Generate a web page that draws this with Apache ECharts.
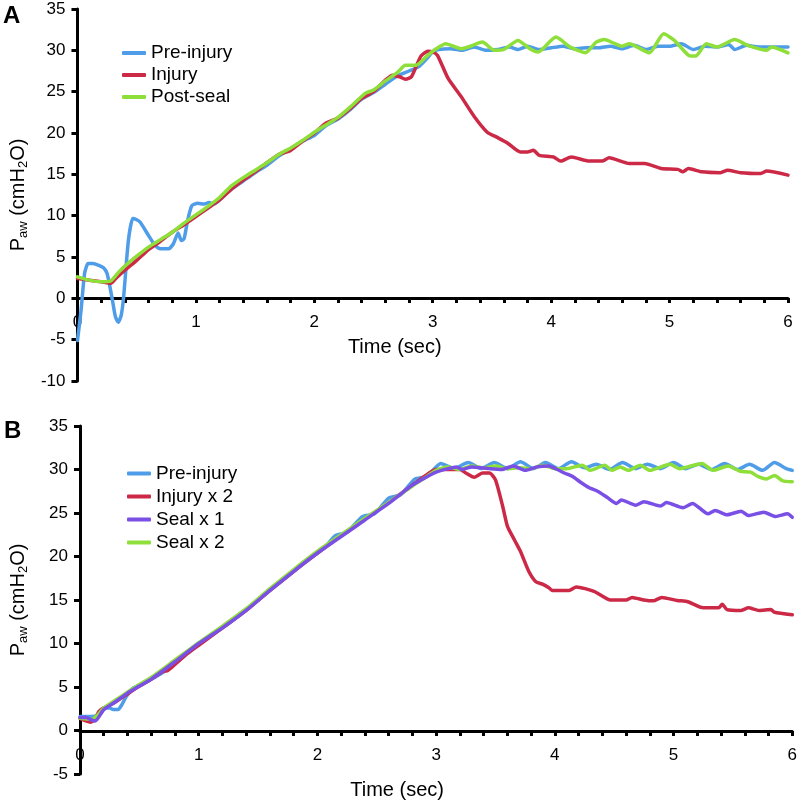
<!DOCTYPE html>
<html>
<head>
<meta charset="utf-8">
<script src="https://cdn.jsdelivr.net/npm/echarts@6.0.0/dist/echarts.min.js"></script>
<style>html,body{margin:0;padding:0;background:#fff}#c{width:800px;height:802px}</style>
</head>
<body>
<div id="c"></div>
<script>
// ---- Panel A ----
var tA_pre = [0,0.03,0.06,0.09,0.13,0.18,0.22,0.25,0.29,0.32,0.345,0.37,0.39,0.43,0.467,0.5,0.53,0.6,0.655,0.7,0.77,0.81,0.85,0.877,0.9,0.93,0.966,1.015,1.07,1.11,1.155,1.2,1.3,1.4,1.5,1.6,1.7,1.8,1.9,2.0,2.1,2.2,2.3,2.4,2.5,2.6,2.7,2.8,2.88,2.95,3.0,3.05,3.15,3.25,3.35,3.45,3.55,3.65,3.72,3.8,3.9,4.0,4.1,4.2,4.3,4.4,4.5,4.6,4.7,4.8,4.9,5.0,5.1,5.2,5.3,5.4,5.5,5.55,5.65,5.75,5.85,6.0];
var vA_pre = [-5.1,-1.5,3.0,4.2,4.2,4.0,3.7,3.0,0.2,-2.2,-2.9,-2.0,0.2,7.0,9.65,9.5,9.2,7.6,6.4,6.0,6.0,6.6,7.9,7.0,7.2,9.4,11.2,11.5,11.4,11.6,11.4,11.9,13.2,14.2,15.2,16.1,17.2,18.1,19.0,19.7,20.9,21.7,22.8,24.1,24.9,25.9,26.9,27.5,28.0,29.0,29.8,30.1,30.2,30.0,30.4,30.0,30.1,30.4,30.1,30.5,30.1,30.3,30.5,30.2,30.3,30.3,30.5,30.2,30.6,30.1,30.5,30.5,30.8,30.1,30.5,30.4,30.7,30.1,30.6,30.4,30.4,30.4];

var tA_inj = [0,0.1,0.2,0.28,0.33,0.4,0.5,0.6,0.7,0.8,0.9,1.0,1.1,1.2,1.3,1.4,1.5,1.6,1.7,1.8,1.9,2.0,2.1,2.2,2.3,2.4,2.5,2.6,2.66,2.72,2.77,2.82,2.9,2.96,3.0,3.04,3.13,3.24,3.35,3.46,3.54,3.63,3.74,3.8,3.85,3.9,4.02,4.08,4.17,4.32,4.43,4.49,4.66,4.79,4.93,5.07,5.11,5.16,5.27,5.43,5.49,5.6,5.77,5.82,6.0];
var vA_inj = [2.4,2.2,2.0,1.8,2.5,3.4,4.6,5.9,6.9,8.0,8.9,9.9,10.9,11.9,13.2,14.3,15.3,16.4,17.4,17.9,19.0,20.0,21.2,21.8,22.9,24.2,25.0,26.4,27.0,26.8,26.5,26.8,29.3,29.9,29.8,29.4,26.6,24.4,22.0,20.1,19.5,18.8,17.7,17.7,17.9,17.3,17.1,16.6,17.1,16.6,16.6,17.0,16.3,16.3,15.7,15.6,15.3,15.7,15.3,15.2,15.5,15.2,15.1,15.4,14.9];

var tA_ps = [0,0.1,0.2,0.28,0.35,0.4,0.5,0.6,0.7,0.8,0.9,1.0,1.1,1.2,1.3,1.4,1.5,1.6,1.7,1.8,1.9,2.0,2.1,2.2,2.3,2.43,2.5,2.6,2.7,2.77,2.86,2.95,3.02,3.11,3.24,3.3,3.42,3.52,3.6,3.72,3.82,3.89,4.04,4.16,4.29,4.38,4.45,4.54,4.6,4.66,4.83,4.95,5.04,5.16,5.22,5.31,5.4,5.55,5.66,5.82,5.86,6.0];
var vA_ps = [2.6,2.2,2.0,2.1,3.2,3.9,5.1,6.2,7.1,8.0,9.1,10.1,11.1,12.2,13.6,14.6,15.5,16.4,17.4,18.2,19.1,20.1,21.0,21.9,23.1,24.8,25.2,26.3,27.3,28.2,28.2,29.3,30.1,30.8,30.2,30.4,31.0,30.0,30.1,31.2,30.2,29.8,31.6,30.4,29.7,31.0,31.3,30.8,30.5,30.8,29.7,32.0,31.2,29.4,29.3,30.8,30.4,31.3,30.6,30.0,30.4,29.7];

// ---- Panel B ----
var tB_pre = [0,0.1,0.15,0.2,0.25,0.28,0.32,0.35,0.39,0.45,0.5,0.6,0.7,0.8,0.9,1.0,1.1,1.2,1.3,1.4,1.5,1.6,1.7,1.8,1.9,2.0,2.06,2.15,2.25,2.38,2.48,2.6,2.7,2.82,2.92,3.04,3.15,3.27,3.38,3.49,3.6,3.71,3.82,3.92,4.03,4.14,4.25,4.35,4.46,4.57,4.68,4.78,4.89,5.0,5.1,5.21,5.32,5.43,5.54,5.64,5.75,5.85,5.95,6.0];
var vB_pre = [1.6,1.6,1.8,2.6,2.6,2.4,2.4,2.9,3.9,4.9,5.2,5.9,6.7,7.7,8.8,9.9,10.9,11.8,12.8,13.9,15.0,16.1,17.2,18.3,19.4,20.4,21.0,22.4,22.8,24.6,24.9,26.7,27.1,28.9,29.2,30.7,30.1,30.8,30.1,30.8,30.1,30.9,30.1,30.8,30.1,30.9,30.2,30.6,30.0,30.8,30.1,30.6,30.1,30.8,30.1,30.6,30.0,30.7,30.0,30.6,29.9,30.8,30.1,29.9];

var tB_inj = [0,0.05,0.09,0.12,0.16,0.2,0.3,0.4,0.5,0.6,0.7,0.74,0.8,0.9,1.0,1.2,1.4,1.6,1.8,2.0,2.2,2.4,2.6,2.8,2.9,3.0,3.1,3.2,3.25,3.32,3.39,3.45,3.5,3.56,3.6,3.66,3.71,3.78,3.84,3.9,3.95,3.98,4.06,4.12,4.18,4.33,4.47,4.6,4.65,4.75,4.83,4.9,5.03,5.12,5.25,5.38,5.41,5.45,5.57,5.63,5.72,5.82,5.85,6.0];
var vB_inj = [1.4,1.1,0.95,1.2,2.2,2.6,3.3,4.2,5.1,5.9,6.8,6.9,7.6,8.8,9.8,11.8,13.8,16.1,18.3,20.4,22.4,24.3,26.2,28.2,29.2,30.0,30.0,30.0,29.6,29.1,29.6,29.6,28.8,25.8,23.5,21.9,20.6,18.3,17.1,16.8,16.4,16.1,16.1,16.1,16.5,16.0,15.0,15.0,15.3,15.0,14.9,15.3,14.95,14.8,14.1,14.1,14.5,13.9,13.8,14.1,13.8,13.9,13.6,13.3];

var tB_s1 = [0,0.05,0.1,0.13,0.2,0.3,0.4,0.5,0.6,0.8,1.0,1.2,1.4,1.6,1.8,2.0,2.2,2.4,2.6,2.8,2.9,3.0,3.1,3.17,3.22,3.3,3.45,3.55,3.65,3.75,3.85,3.95,4.02,4.08,4.15,4.22,4.29,4.36,4.44,4.52,4.56,4.68,4.75,4.89,4.94,5.08,5.16,5.29,5.35,5.45,5.57,5.63,5.76,5.86,5.96,6.0];
var vB_s1 = [1.5,1.5,1.2,1.1,2.4,3.3,4.3,5.1,5.9,7.9,10.0,11.8,13.8,16.1,18.3,20.4,22.3,24.2,26.1,28.2,29.0,29.7,30.1,30.3,30.0,30.3,30.1,30.0,30.4,29.9,30.3,30.4,30.0,29.6,29.2,28.5,27.9,27.5,26.8,26.1,26.5,25.9,26.3,25.8,26.2,25.6,26.1,24.9,25.3,24.8,25.2,24.7,25.1,24.6,24.9,24.5];

var tB_s2 = [0,0.1,0.15,0.2,0.3,0.4,0.5,0.6,0.8,1.0,1.2,1.4,1.6,1.8,2.0,2.2,2.4,2.6,2.8,2.9,3.0,3.1,3.2,3.3,3.4,3.5,3.6,3.7,3.8,3.9,4.0,4.1,4.23,4.3,4.42,4.48,4.55,4.62,4.72,4.8,4.97,5.05,5.24,5.33,5.46,5.56,5.65,5.71,5.78,5.85,5.92,6.0];
var vB_s2 = [1.4,1.3,1.8,2.6,3.5,4.4,5.3,6.1,8.1,10.1,12.0,14.0,16.3,18.5,20.6,22.5,24.4,26.2,28.1,29.0,29.9,30.3,30.0,30.4,30.2,30.4,30.1,30.2,30.1,30.5,30.1,30.1,30.5,29.9,30.5,29.9,30.3,29.9,30.5,29.9,30.6,30.1,30.7,29.9,30.4,29.8,29.7,29.2,28.9,29.3,28.7,28.6];

var namesA = ['Pre-injury','Injury','Post-seal'];
var namesB = ['Pre-injury','Injury x 2','Seal x 1','Seal x 2'];
var xTitle = 'Time (sec)';

var C_BLUE = '#4f9de8', C_RED = '#cc2947', C_GREEN = '#8fdf3a', C_PURPLE = '#7a4fe6';

function pairs(t, v){ return t.map(function(x,i){ return [x, v[i]]; }); }
function mkSeries(name, t, v, color, xi){
  return {name:name, type:'line', xAxisIndex:xi, yAxisIndex:xi, data:pairs(t,v), showSymbol:false, smooth:0.2,
    color:color, lineStyle:{width:3.5, color:color, cap:'round', join:'round'}, animation:false, z:2};
}
var FONT = 'Liberation Sans, Arial, sans-serif';
function xAx(gi, off, gap, padR){
  return {gridIndex:gi, type:'value', min:0, max:6, interval:1, position:'bottom', offset:off,
    name:xTitle, nameLocation:'middle', nameGap:gap,
    nameTextStyle:{fontSize:20, color:'#000', fontFamily:FONT, padding:[0,padR,0,0]},
    axisLine:{onZero:false, lineStyle:{color:'#000', width:3}},
    axisTick:{show:true, length:5, lineStyle:{color:'#000', width:3}},
    minorTick:{show:true, splitNumber:5, length:5, lineStyle:{color:'#000', width:3}},
    splitLine:{show:false}, minorSplitLine:{show:false},
    axisLabel:{fontSize:17, color:'#000', margin:16, fontFamily:FONT}};
}
function yAx(gi, min, gap){
  return {gridIndex:gi, type:'value', min:min, max:35, interval:5,
    name:'{n|P}{s|aw}{n| (cmH}{s|2}{n|O)}', nameLocation:'middle', nameRotate:90, nameGap:gap,
    nameTextStyle:{color:'#000', fontFamily:FONT, rich:{
      n:{fontSize:20, lineHeight:24, color:'#000', fontFamily:FONT},
      s:{fontSize:13, lineHeight:13, verticalAlign:'bottom', color:'#000', fontFamily:FONT}}},
    axisLine:{show:true, onZero:false, lineStyle:{color:'#000', width:3}},
    axisTick:{show:true, length:6, lineStyle:{color:'#000', width:3}},
    splitLine:{show:false},
    axisLabel:{fontSize:17, color:'#000', margin:12, fontFamily:FONT}};
}

var chart = echarts.init(document.getElementById('c'), null, {renderer:'canvas'});
chart.setOption({
  animation:false,
  backgroundColor:'#fff',
  textStyle:{fontFamily:FONT},
  grid:[{left:68, top:9, width:720, height:372},{left:73, top:426, width:720, height:348}],
  xAxis:[xAx(0, -83, 39, 76), xAx(1, -43, 49, 78)],
  yAxis:[yAx(0, -10, 39), yAx(1, -5, 50)],
  legend:[
    {data:namesA, orient:'vertical', left:117, top:37, itemWidth:24, itemHeight:4, itemGap:0, icon:'roundRect',
     textStyle:{fontSize:19, lineHeight:22, color:'#000', fontFamily:FONT}, selectedMode:false},
    {data:namesB, orient:'vertical', left:122, top:457, itemWidth:24, itemHeight:4, itemGap:0, icon:'roundRect',
     textStyle:{fontSize:19, lineHeight:23, color:'#000', fontFamily:FONT}, selectedMode:false}
  ],
  graphic:[
    {type:'text', left:3, top:4, style:{text:'A', fontSize:24, fontWeight:'bold', fill:'#000', fontFamily:FONT}},
    {type:'text', left:4, top:419, style:{text:'B', fontSize:24, fontWeight:'bold', fill:'#000', fontFamily:FONT}}
  ],
  series:[
    mkSeries(namesA[0], tA_pre, vA_pre, C_BLUE, 0),
    mkSeries(namesA[1], tA_inj, vA_inj, C_RED, 0),
    mkSeries(namesA[2], tA_ps, vA_ps, C_GREEN, 0),
    mkSeries(namesB[0], tB_pre, vB_pre, C_BLUE, 1),
    mkSeries(namesB[1], tB_inj, vB_inj, C_RED, 1),
    mkSeries(namesB[3], tB_s2, vB_s2, C_GREEN, 1),
    mkSeries(namesB[2], tB_s1, vB_s1, C_PURPLE, 1)
  ]
});
</script>
</body>
</html>
